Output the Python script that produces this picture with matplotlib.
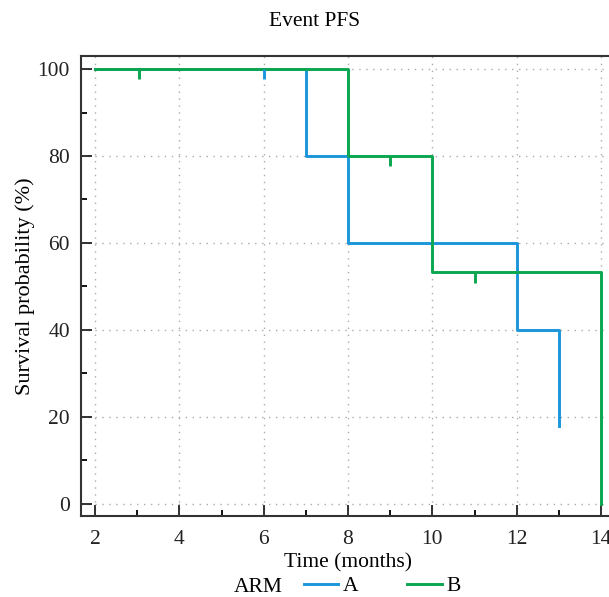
import matplotlib
matplotlib.use("Agg")
import matplotlib.pyplot as plt
from matplotlib.lines import Line2D
import numpy as np

plt.rcParams['font.family'] = ['Liberation Serif', 'DejaVu Serif']

# Data (step curves)
a_times = [2, 7, 8, 12, 13]
a_surv = [100, 80, 60, 40, 18]
a_end = 13
b_times = [2, 8, 10, 14]
b_surv = [100, 80, 53.3, 0]
b_end = 14
# censor marks
a_cens_t = [6]
a_cens_s = [100]
b_cens_t = [3.05, 9, 11]
b_cens_s = [100, 80, 53.3]

col_a = '#1a96db'
col_b = '#0aa650'

fig = plt.figure(figsize=(6.09, 5.97), dpi=100)
ax = fig.add_axes([81/609, 81/597, 534/609, 460/597])

def step_xy(times, surv, end):
    xs, ys = [], []
    for i, (t, s) in enumerate(zip(times, surv)):
        if i > 0:
            xs.append(t); ys.append(surv[i-1])
        xs.append(t); ys.append(s)
    if end > times[-1]:
        xs.append(end); ys.append(surv[-1])
    return xs, ys

xa, ya = step_xy(a_times, a_surv, a_end)
xb, yb = step_xy(b_times, b_surv, b_end)
ax.plot(xa, ya, color=col_a, lw=2.1, zorder=3)
ax.plot(xb, yb, color=col_b, lw=2.1, zorder=3)
ax.vlines(a_cens_t, np.array(a_cens_s) - 2.4, a_cens_s, color=col_a, lw=2.1, zorder=3)
ax.vlines(b_cens_t, np.array(b_cens_s) - 2.4, b_cens_s, color=col_b, lw=2.1, zorder=3)

ax.set_xlim(1.668, 14.33)
ax.set_ylim(-2.8, 103)
ax.set_xticks(np.arange(2, 15, 2))
ax.set_xticks(np.arange(3, 15, 2), minor=True)
ax.set_yticks(np.arange(0, 101, 20))
ax.set_yticks(np.arange(10, 101, 20), minor=True)
ax.tick_params(which='major', direction='in', length=8, width=1.3, labelsize=15.5, colors='#222222')
ax.tick_params(axis='x', which='major', pad=10)
ax.tick_params(axis='y', which='major', pad=8)
ax.tick_params(which='minor', direction='in', length=4, width=1.3)
ax.tick_params(axis='x', which='both', top=False)
ax.tick_params(axis='y', which='both', right=False)
ax.grid(True, which='major', linestyle=(0, (1, 4)), color='#aaaaaa', lw=1.0)
for s in ax.spines.values():
    s.set_linewidth(1.5)
    s.set_color('#333333')

ax.set_xlabel('Time (months)', fontsize=15.5, labelpad=3)
ax.set_ylabel('Survival probability (%)', fontsize=16, labelpad=2)
fig.text(315/609, 1 - 22/597, 'Event PFS', ha='center', va='center', fontsize=15.5)

fig.text(258/609, 1 - 587/597, 'ARM', ha='center', va='center', fontsize=15.5)
handles = [Line2D([], [], color=col_a, lw=2.1), Line2D([], [], color=col_b, lw=2.1)]
fig.legend(handles, ['A', 'B'], ncol=2, frameon=False, fontsize=15.5,
           loc='center', bbox_to_anchor=(382/609, 1 - 586/597),
           handlelength=1.6, handletextpad=0.2, columnspacing=2.3)

fig.savefig('out.png', dpi=100)
